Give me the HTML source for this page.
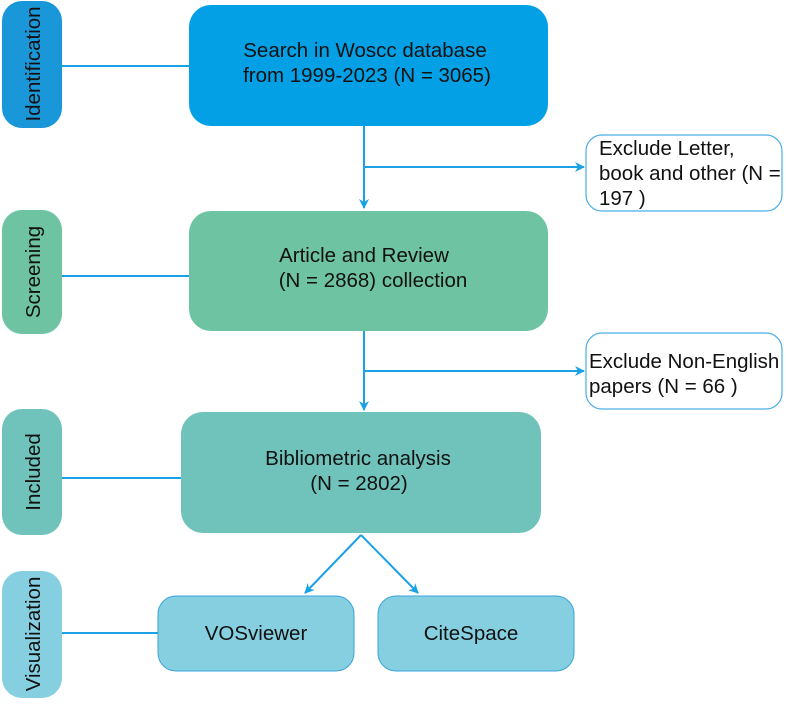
<!DOCTYPE html>
<html><head><meta charset="utf-8"><style>
body{margin:0;background:#fff;}
svg text{font-family:"Liberation Sans",Arial,sans-serif;fill:#111;}
</style></head><body>
<svg width="786" height="699" viewBox="0 0 786 699" xmlns="http://www.w3.org/2000/svg">
<defs>
<marker id="a" markerWidth="12" markerHeight="12" refX="9" refY="6" orient="auto" markerUnits="userSpaceOnUse">
<path d="M0,1 L10,6 L0,11 L3,6 Z" fill="#1ba1e6"/></marker>
</defs>
<g stroke="#1ba1e6" stroke-width="2" fill="none">
<line x1="62" y1="66" x2="189" y2="66"/>
<line x1="62" y1="276" x2="189" y2="276"/>
<line x1="62" y1="478" x2="181" y2="478"/>
<line x1="62" y1="633" x2="158" y2="633"/>
<line x1="364" y1="126" x2="364" y2="208" marker-end="url(#a)"/>
<line x1="364" y1="167" x2="584" y2="167" marker-end="url(#a)"/>
<line x1="364" y1="331" x2="364" y2="410" marker-end="url(#a)"/>
<line x1="364" y1="371" x2="584" y2="371" marker-end="url(#a)"/>
<line x1="361" y1="535" x2="305" y2="593" marker-end="url(#a)"/>
<line x1="361" y1="535" x2="418" y2="593" marker-end="url(#a)"/>
</g>
<rect x="2" y="1" width="60" height="127" rx="20" fill="#1a97d8"/>
<rect x="2" y="210" width="60" height="124" rx="20" fill="#6ec3a2"/>
<rect x="2" y="409" width="60" height="126" rx="20" fill="#6fc3bb"/>
<rect x="2" y="571" width="60" height="127" rx="20" fill="#86cfe0"/>
<g font-size="20.5" text-anchor="middle">
<text transform="translate(40,64) rotate(-90)">Identification</text>
<text transform="translate(40,272) rotate(-90)">Screening</text>
<text transform="translate(40,472) rotate(-90)">Included</text>
<text transform="translate(40,634) rotate(-90)">Visualization</text>
</g>
<rect x="189" y="5" width="359" height="121" rx="22" fill="#04a0e6"/>
<rect x="189" y="211" width="359" height="120" rx="22" fill="#6ec3a2"/>
<rect x="181" y="412" width="360" height="121" rx="22" fill="#6fc3bb"/>
<rect x="158" y="596" width="196" height="75" rx="18" fill="#86cfe0" stroke="#3aa3dc" stroke-width="1"/>
<rect x="378" y="596" width="196" height="75" rx="18" fill="#86cfe0" stroke="#3aa3dc" stroke-width="1"/>
<rect x="586" y="135" width="196" height="76" rx="16" fill="#fff" stroke="#4aaee6" stroke-width="1.2"/>
<rect x="586" y="333" width="196" height="76" rx="16" fill="#fff" stroke="#4aaee6" stroke-width="1.2"/>
<g font-size="20.5" text-anchor="middle">
<text x="365" y="57">Search in Woscc database</text>
<text x="367" y="82">from 1999-2023 (N = 3065)</text>
<text x="364" y="262">Article and Review</text>
<text x="373" y="287">(N = 2868) collection</text>
<text x="358" y="465">Bibliometric analysis</text>
<text x="359" y="490">(N = 2802)</text>
<text x="256" y="640">VOSviewer</text>
<text x="471" y="640">CiteSpace</text>
</g>
<g font-size="20.5">
<text x="599" y="155">Exclude Letter,</text>
<text x="599" y="180">book and other (N =</text>
<text x="599" y="205">197 )</text>
<text x="589" y="368">Exclude Non-English</text>
<text x="589" y="393">papers (N = 66 )</text>
</g>
</svg>
</body></html>
